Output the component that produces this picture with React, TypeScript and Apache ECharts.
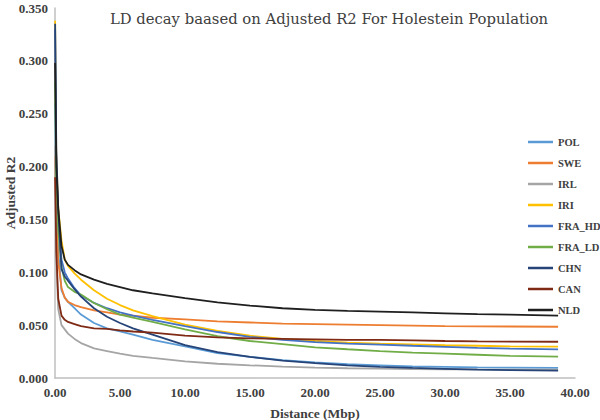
import React, { useEffect, useRef } from "react";
import * as echarts from "echarts";

// Distance bins (Mbp)
const DIST = [0.01, 0.1, 0.25, 0.5, 0.75, 1, 1.5, 2, 3, 4, 5, 6, 7.5, 10, 12.5, 15, 17.5, 20, 22.5, 25, 27.5, 30, 32.5, 35, 38.7];

// Adjusted R2 per population
const POL = [0.260, 0.160, 0.120, 0.083, 0.076, 0.072, 0.066, 0.060, 0.052, 0.047, 0.044, 0.041, 0.036, 0.030, 0.0235, 0.020, 0.017, 0.0148, 0.013, 0.012, 0.011, 0.0105, 0.010, 0.0098, 0.0095];
const SWE = [0.210, 0.150, 0.110, 0.085, 0.076, 0.072, 0.069, 0.067, 0.064, 0.062, 0.060, 0.059, 0.057, 0.0555, 0.0535, 0.0525, 0.0515, 0.051, 0.0505, 0.050, 0.0495, 0.049, 0.0488, 0.0487, 0.0485];
const IRL = [0.220, 0.110, 0.065, 0.050, 0.046, 0.042, 0.037, 0.033, 0.028, 0.0255, 0.023, 0.021, 0.019, 0.0158, 0.0135, 0.012, 0.0108, 0.0098, 0.0092, 0.0088, 0.0085, 0.0083, 0.0081, 0.008, 0.0079];
const IRI = [0.338, 0.210, 0.160, 0.130, 0.112, 0.106, 0.099, 0.093, 0.083, 0.075, 0.069, 0.064, 0.0585, 0.0505, 0.0445, 0.040, 0.037, 0.035, 0.0335, 0.0325, 0.0318, 0.031, 0.0305, 0.030, 0.0296];
const FRA_HD = [0.330, 0.200, 0.150, 0.112, 0.100, 0.094, 0.085, 0.078, 0.071, 0.066, 0.062, 0.059, 0.055, 0.049, 0.0435, 0.039, 0.036, 0.034, 0.0325, 0.0316, 0.0305, 0.0295, 0.0285, 0.0278, 0.0271];
const FRA_LD = [0.280, 0.185, 0.140, 0.105, 0.092, 0.086, 0.0815, 0.079, 0.071, 0.065, 0.060, 0.057, 0.053, 0.046, 0.0395, 0.035, 0.032, 0.029, 0.0272, 0.0255, 0.024, 0.023, 0.022, 0.021, 0.0202];
const CHN = [0.335, 0.215, 0.160, 0.103, 0.096, 0.092, 0.084, 0.077, 0.066, 0.058, 0.052, 0.047, 0.041, 0.031, 0.0245, 0.020, 0.0165, 0.014, 0.012, 0.0105, 0.0095, 0.0087, 0.008, 0.0075, 0.0069];
const CAN = [0.190, 0.120, 0.075, 0.059, 0.055, 0.053, 0.051, 0.049, 0.047, 0.0465, 0.045, 0.044, 0.043, 0.040, 0.0385, 0.0375, 0.037, 0.0365, 0.036, 0.036, 0.0355, 0.035, 0.0347, 0.0345, 0.0343];
const NLD = [0.298, 0.200, 0.160, 0.125, 0.112, 0.107, 0.102, 0.098, 0.093, 0.089, 0.086, 0.083, 0.080, 0.0755, 0.0715, 0.0685, 0.066, 0.0645, 0.0635, 0.0627, 0.062, 0.0612, 0.0605, 0.060, 0.059];

const SERIES_NAMES = ["POL", "SWE", "IRL", "IRI", "FRA_HD", "FRA_LD", "CHN", "CAN", "NLD"];
const SERIES_VALUES = [POL, SWE, IRL, IRI, FRA_HD, FRA_LD, CHN, CAN, NLD];
const COLORS = ["#5B9BD5", "#ED7D31", "#A5A5A5", "#FFC000", "#4472C4", "#70AD47", "#264478", "#7F2A14", "#1F1F1F"];

const TITLE_FONT = "'DejaVu Serif', serif";
const LABEL_FONT = "'Liberation Serif', serif";

export default function App() {
  const ref = useRef<HTMLDivElement>(null);

  useEffect(() => {
    document.body.style.margin = "0";
    if (!ref.current) return;
    const chart = echarts.init(ref.current, null, { renderer: "svg" });
    const labelStyle = { fontFamily: LABEL_FONT, fontWeight: "bold", fontSize: 13, color: "#404040" };
    const nameStyle = { ...labelStyle, fontSize: 13.5 };
    chart.setOption({
      animation: false,
      backgroundColor: "#ffffff",
      title: {
        text: "LD decay baased on Adjusted R2 For Holestein Population",
        left: 324,
        top: 6,
        textAlign: "center",
        textStyle: { fontFamily: TITLE_FONT, fontWeight: "normal", fontSize: 14.8, color: "#404040" },
      },
      legend: {
        orient: "vertical",
        left: 523,
        top: 130,
        itemWidth: 25,
        itemHeight: 2.5,
        itemGap: 7,
        icon: "rect",
        data: SERIES_NAMES,
        textStyle: { fontFamily: LABEL_FONT, fontWeight: "bold", fontSize: 10.5, color: "#404040", lineHeight: 14 },
      },
      grid: { left: 55, right: 25, top: 8, bottom: 42, outerBoundsMode: "none" },
      xAxis: {
        type: "value",
        min: 0,
        max: 40,
        interval: 5,
        name: "Distance (Mbp)",
        nameLocation: "middle",
        nameGap: 28,
        nameMoveOverlap: false,
        nameTextStyle: nameStyle,
        axisLine: { lineStyle: { color: "#BFBFBF", width: 1.5 } },
        axisTick: { show: false },
        splitLine: { show: false },
        axisLabel: {
          ...labelStyle,
          margin: 8,
          formatter: (v: number) => v.toFixed(2),
        },
      },
      yAxis: {
        type: "value",
        min: 0,
        max: 0.35,
        interval: 0.05,
        name: "Adjusted R2",
        nameLocation: "middle",
        nameGap: 38,
        nameMoveOverlap: false,
        nameTextStyle: nameStyle,
        axisLine: { show: true, lineStyle: { color: "#BFBFBF", width: 1.5 } },
        axisTick: { show: false },
        splitLine: { show: false },
        axisLabel: {
          ...labelStyle,
          margin: 7,
          formatter: (v: number) => v.toFixed(3),
        },
      },
      series: SERIES_NAMES.map((name, i) => ({
        name,
        type: "line",
        showSymbol: false,
        symbol: "none",
        smooth: false,
        color: COLORS[i],
        lineStyle: { width: 1.8, color: COLORS[i] },
        data: DIST.map((d, j) => [d, SERIES_VALUES[i][j]]),
      })),
    });
    return () => chart.dispose();
  }, []);

  return <div ref={ref} style={{ width: 600, height: 420 }} />;
}
